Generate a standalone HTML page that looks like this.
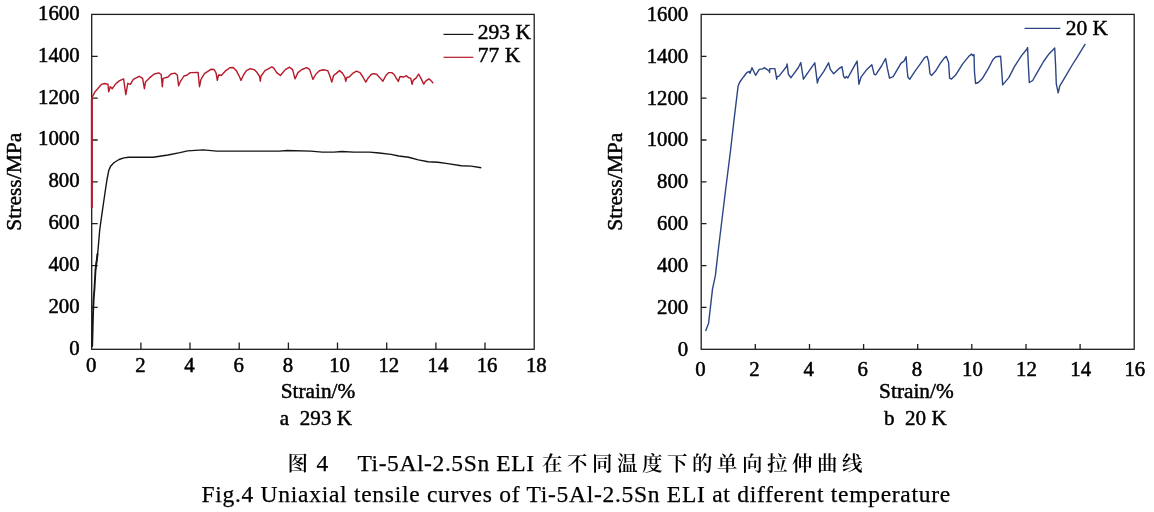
<!DOCTYPE html>
<html lang="zh"><head><meta charset="utf-8"><title>Fig.4</title>
<style>html,body{margin:0;padding:0;background:#fff}svg{display:block}text{white-space:pre;font-family:"Liberation Serif","Noto Serif CJK SC",serif;fill:#000;stroke:#000;stroke-width:0.45px;stroke-linejoin:round}.tk{stroke-width:0.5px}.cap{stroke-width:0.25px}.cj{font-family:"Noto Serif CJK SC","Liberation Serif",serif;stroke-width:0;font-weight:600}</style></head><body>
<svg width="1154" height="512" viewBox="0 0 1154 512">
<rect width="1154" height="512" fill="#fff"/>
<g fill="none" stroke="#1e1e1e" stroke-width="1.3">
<rect x="91.7" y="14.4" width="442.5" height="334.9"/>
<path d="M140.9 349.3v-6.8M190.0 349.3v-6.8M239.2 349.3v-6.8M288.4 349.3v-6.8M337.5 349.3v-6.8M386.7 349.3v-6.8M435.9 349.3v-6.8M485.0 349.3v-6.8M91.7 307.4h6M91.7 265.6h6M91.7 223.7h6M91.7 181.8h6M91.7 140.0h6M91.7 98.1h6M91.7 56.3h6"/></g>
<text transform="translate(91.2 372) scale(1.04 1)" font-size="20" text-anchor="middle" xml:space="preserve" class="tk">0</text>
<text transform="translate(140.4 372) scale(1.04 1)" font-size="20" text-anchor="middle" xml:space="preserve" class="tk">2</text>
<text transform="translate(189.5 372) scale(1.04 1)" font-size="20" text-anchor="middle" xml:space="preserve" class="tk">4</text>
<text transform="translate(238.7 372) scale(1.04 1)" font-size="20" text-anchor="middle" xml:space="preserve" class="tk">6</text>
<text transform="translate(287.9 372) scale(1.04 1)" font-size="20" text-anchor="middle" xml:space="preserve" class="tk">8</text>
<text transform="translate(339.6 372) scale(1.04 1)" font-size="20" text-anchor="middle" xml:space="preserve" class="tk">10</text>
<text transform="translate(388.8 372) scale(1.04 1)" font-size="20" text-anchor="middle" xml:space="preserve" class="tk">12</text>
<text transform="translate(438.0 372) scale(1.04 1)" font-size="20" text-anchor="middle" xml:space="preserve" class="tk">14</text>
<text transform="translate(487.1 372) scale(1.04 1)" font-size="20" text-anchor="middle" xml:space="preserve" class="tk">16</text>
<text transform="translate(536.3 372) scale(1.04 1)" font-size="20" text-anchor="middle" xml:space="preserve" class="tk">18</text>
<text transform="translate(79.6 355) scale(1.04 1)" font-size="20" text-anchor="end" xml:space="preserve" class="tk">0</text>
<text transform="translate(79.6 313) scale(1.04 1)" font-size="20" text-anchor="end" xml:space="preserve" class="tk">200</text>
<text transform="translate(79.6 271) scale(1.04 1)" font-size="20" text-anchor="end" xml:space="preserve" class="tk">400</text>
<text transform="translate(79.6 229) scale(1.04 1)" font-size="20" text-anchor="end" xml:space="preserve" class="tk">600</text>
<text transform="translate(79.6 187) scale(1.04 1)" font-size="20" text-anchor="end" xml:space="preserve" class="tk">800</text>
<text transform="translate(79.6 145) scale(1.04 1)" font-size="20" text-anchor="end" xml:space="preserve" class="tk">1000</text>
<text transform="translate(79.6 104) scale(1.04 1)" font-size="20" text-anchor="end" xml:space="preserve" class="tk">1200</text>
<text transform="translate(79.6 62) scale(1.04 1)" font-size="20" text-anchor="end" xml:space="preserve" class="tk">1400</text>
<text transform="translate(79.6 20) scale(1.04 1)" font-size="20" text-anchor="end" xml:space="preserve" class="tk">1600</text>
<polyline fill="none" stroke="#141414" stroke-width="1.4" stroke-linejoin="round" points="95.5,270 98.0,250 99.7,230 102.5,210 105.4,190 107.0,179.5 108.8,170.3 110.8,165.9 114.2,162.5 119.1,159.5 123.9,157.9 128.8,157.3 153.2,157.3 167.9,155.0 180.0,152.6 187.6,150.9 203.2,149.9 216.9,151.1 279.4,151.1 287.2,150.5 310.6,151.1 322.3,152.1 334.1,152.1 341.9,151.5 353.6,152.1 369.5,152.1 379.3,153.0 391.0,154.4 398.8,156.0 408.6,157.3 418.4,159.9 428.1,161.8 437.9,162.2 447.7,163.6 461.3,165.7 471.1,166.1 481.3,167.7"/>
<polyline fill="none" stroke="#b61a2a" stroke-width="1.4" stroke-linejoin="round" points="91.8,207.9 91.8,98.0 94.8,92.1 97.7,88.7 101.6,84.3 104.5,83.5 108.0,84.3 108.7,91.9 110.2,86.7 112.3,88.7 115.3,84.3 119.2,80.9 123.6,78.9 125.8,94.6 127.8,83.3 130.4,84.3 133.3,79.4 139.2,76.3 142.6,78.4 144.4,88.7 145.5,81.9 149.5,77.9 154.3,74.0 158.7,72.9 161.2,74.5 162.3,86.7 163.1,78.4 168.0,77.0 170.9,74.0 174.8,73.1 177.3,75.0 178.6,85.8 180.2,81.9 183.9,76.0 186.8,75.3 190.3,72.6 198.1,72.4 199.5,86.7 201.0,79.4 204.4,73.6 211.3,69.2 214.2,69.5 216.1,73.1 217.3,80.4 218.6,75.0 221.5,75.3 225.9,70.6 229.8,67.7 233.2,67.5 236.6,71.1 239.6,77.0 241.0,80.4 243.5,75.0 246.4,70.6 250.3,68.7 254.2,69.6 257.1,72.6 259.6,76.5 260.3,81.2 261.1,76.0 265.0,70.6 271.8,66.9 273.8,68.2 276.7,72.6 280.4,75.5 285.3,69.6 289.6,67.2 292.6,69.6 295.0,78.9 297.9,72.6 301.9,69.5 306.7,67.7 309.7,69.6 312.9,79.4 316.0,74.0 319.4,70.8 323.3,69.8 327.7,70.6 329.7,75.5 331.8,82.1 333.6,75.5 336.0,73.6 339.5,70.6 342.4,73.1 344.8,77.0 345.8,81.4 346.8,77.5 349.2,77.0 353.1,73.1 356.5,71.1 360.0,72.6 362.9,77.0 365.8,82.1 368.3,77.9 371.2,74.5 373.5,73.7 376.6,74.3 380.0,77.9 382.9,81.2 385.9,75.5 388.8,72.6 391.7,72.6 394.2,74.5 396.1,77.9 398.3,81.4 400.0,76.5 403.9,77.0 406.4,75.7 408.3,77.5 410.8,78.4 412.1,84.3 413.2,80.4 416.2,77.9 418.6,74.0 421.0,78.4 423.7,84.1 425.4,81.4 428.8,78.9 430.8,80.4 433.2,83.3"/>
<polyline fill="none" stroke="#141414" stroke-width="1.9" stroke-linejoin="round" stroke-linecap="round" points="92.2,346 92.6,330 93.0,315 93.6,300 94.5,288 95.5,270 97.6,254"/>
<path d="M91.8 99V207.9" stroke="#b61a2a" stroke-width="2"/>
<path d="M443.5 34.4H473.4" stroke="#141414" stroke-width="1.2"/>
<path d="M443.5 57.3H473.4" stroke="#b61a2a" stroke-width="1.2"/>
<text transform="translate(477.8 39) scale(1.05 1)" font-size="20.5" text-anchor="start" xml:space="preserve">293 K</text>
<text transform="translate(477.8 62) scale(1.05 1)" font-size="20.5" text-anchor="start" xml:space="preserve">77 K</text>
<text transform="translate(20.6 181.7) rotate(-90) scale(1.05 1)" font-size="20.5" text-anchor="middle" xml:space="preserve">Stress/MPa</text>
<text transform="translate(318 398) scale(1.04 1)" font-size="20.5" text-anchor="middle" xml:space="preserve">Strain/%</text>
<text transform="translate(315.9 425) scale(1.03 1)" font-size="20.5" text-anchor="middle" xml:space="preserve">a  293 K</text>
<g fill="none" stroke="#1e1e1e" stroke-width="1.3">
<rect x="701.2" y="14.4" width="433.0" height="334.9"/>
<path d="M755.3 349.3v-5.3M809.5 349.3v-5.3M863.6 349.3v-5.3M917.7 349.3v-5.3M971.8 349.3v-5.3M1026.0 349.3v-5.3M1080.1 349.3v-5.3M701.2 307.4h5.3M701.2 265.6h5.3M701.2 223.7h5.3M701.2 181.8h5.3M701.2 140.0h5.3M701.2 98.1h5.3M701.2 56.3h5.3"/></g>
<text transform="translate(700.4 376) scale(1.04 1)" font-size="20" text-anchor="middle" xml:space="preserve" class="tk">0</text>
<text transform="translate(754.5 376) scale(1.04 1)" font-size="20" text-anchor="middle" xml:space="preserve" class="tk">2</text>
<text transform="translate(808.7 376) scale(1.04 1)" font-size="20" text-anchor="middle" xml:space="preserve" class="tk">4</text>
<text transform="translate(862.8 376) scale(1.04 1)" font-size="20" text-anchor="middle" xml:space="preserve" class="tk">6</text>
<text transform="translate(916.9 376) scale(1.04 1)" font-size="20" text-anchor="middle" xml:space="preserve" class="tk">8</text>
<text transform="translate(972.4 376) scale(1.04 1)" font-size="20" text-anchor="middle" xml:space="preserve" class="tk">10</text>
<text transform="translate(1026.5 376) scale(1.04 1)" font-size="20" text-anchor="middle" xml:space="preserve" class="tk">12</text>
<text transform="translate(1080.7 376) scale(1.04 1)" font-size="20" text-anchor="middle" xml:space="preserve" class="tk">14</text>
<text transform="translate(1134.8 376) scale(1.04 1)" font-size="20" text-anchor="middle" xml:space="preserve" class="tk">16</text>
<text transform="translate(688.2 356) scale(1.04 1)" font-size="20" text-anchor="end" xml:space="preserve" class="tk">0</text>
<text transform="translate(688.2 314) scale(1.04 1)" font-size="20" text-anchor="end" xml:space="preserve" class="tk">200</text>
<text transform="translate(688.2 272) scale(1.04 1)" font-size="20" text-anchor="end" xml:space="preserve" class="tk">400</text>
<text transform="translate(688.2 230) scale(1.04 1)" font-size="20" text-anchor="end" xml:space="preserve" class="tk">600</text>
<text transform="translate(688.2 188) scale(1.04 1)" font-size="20" text-anchor="end" xml:space="preserve" class="tk">800</text>
<text transform="translate(688.2 146) scale(1.04 1)" font-size="20" text-anchor="end" xml:space="preserve" class="tk">1000</text>
<text transform="translate(688.2 105) scale(1.04 1)" font-size="20" text-anchor="end" xml:space="preserve" class="tk">1200</text>
<text transform="translate(688.2 63) scale(1.04 1)" font-size="20" text-anchor="end" xml:space="preserve" class="tk">1400</text>
<text transform="translate(688.2 21) scale(1.04 1)" font-size="20" text-anchor="end" xml:space="preserve" class="tk">1600</text>
<polyline fill="none" stroke="#2c4585" stroke-width="1.4" stroke-linejoin="round" points="705.6,331.1 708.6,323.2 712.5,289.1 715.4,275.4 718.3,250 725.2,193 730.6,150 734.2,118.4 738.1,86.1 739.8,82.0 743.7,76.7 747.1,72.3 749.5,71.4 750.0,73.3 752.0,67.7 755.6,75.3 759.3,69.4 762.7,68.9 764.2,67.7 769.1,70.9 769.6,72.5 769.8,68.6 774.9,68.6 776.7,79.2 777.4,76.4 778.8,76.4 786.6,66.5 787.1,64.0 788.4,74.3 791.0,77.7 798.4,67.5 800.8,62.6 803.4,79.2 808.1,72.3 814.8,62.8 817.4,83.1 818.4,79.2 823.8,71.4 828.6,62.8 830.3,69.4 833.7,73.8 838.6,68.9 842.0,66.7 843.6,76.3 844.9,78.2 846.4,76.4 847.8,78.0 852.2,69.9 857.1,61.1 858.9,84.3 861.0,77.2 866.9,69.4 871.8,64.7 874.2,74.3 875.7,74.8 881.5,66.0 885.6,58.5 887.4,68.4 889.5,78.2 893.2,76.7 897.1,69.9 901.1,63.1 904.0,61.1 906.1,56.7 906.9,67.5 907.9,77.2 909.8,79.2 914.9,71.3 920.7,63.4 924.6,57.6 927.1,56.4 928.6,61.5 930.0,73.7 931.5,75.4 935.4,71.3 940.3,63.4 944.2,58.1 946.3,56.4 948.6,62.5 949.6,78.1 951.5,79.1 955.9,74.7 962.7,63.9 968.6,56.6 971.5,53.9 972.5,55.6 974.0,54.6 974.5,72.2 975.6,83.5 978.4,82.5 982.3,78.6 988.1,68.8 993.0,59.5 995.9,56.8 1000.6,56.2 1001.6,69.3 1002.7,84.9 1008.8,77.6 1014.6,66.4 1021.5,55.6 1026.4,49.8 1027.6,47.6 1028.3,64.4 1029.3,82.5 1032.7,80.5 1037.1,72.7 1043.9,61.0 1048.8,54.2 1054.7,48.0 1055.6,65.5 1056.3,83.8 1058.2,92.8 1059.8,85.8 1063.0,80.7 1071.9,65.5 1078.3,55.3 1085.3,43.9"/>
<path d="M1024.5 28.3H1060.3" stroke="#2c4585" stroke-width="1.15"/>
<text transform="translate(1065.7 35) scale(1.05 1)" font-size="20.5" text-anchor="start" xml:space="preserve">20 K</text>
<text transform="translate(622.3 181.7) rotate(-90) scale(1.05 1)" font-size="20.5" text-anchor="middle" xml:space="preserve">Stress/MPa</text>
<text transform="translate(916.4 398) scale(1.04 1)" font-size="20.5" text-anchor="middle" xml:space="preserve">Strain/%</text>
<text transform="translate(915.3 425) scale(1.03 1)" font-size="20.5" text-anchor="middle" xml:space="preserve">b  20 K</text>
<text class="cap" y="471" font-size="23.5" xml:space="preserve"><tspan class="cj" x="287.5" font-size="20.5">图 </tspan><tspan x="316.6">4    </tspan><tspan x="357.4" letter-spacing="0.6">Ti-5Al-2.5Sn ELI </tspan><tspan class="cj" x="542.1" font-size="20.5" letter-spacing="4.5">在不同温度下的单向拉伸曲线</tspan></text>
<text class="cap" x="201.4" y="502" font-size="23.5" letter-spacing="0.725" xml:space="preserve">Fig.4 Uniaxial tensile curves of Ti-5Al-2.5Sn ELI at different temperature</text>
</svg></body></html>
